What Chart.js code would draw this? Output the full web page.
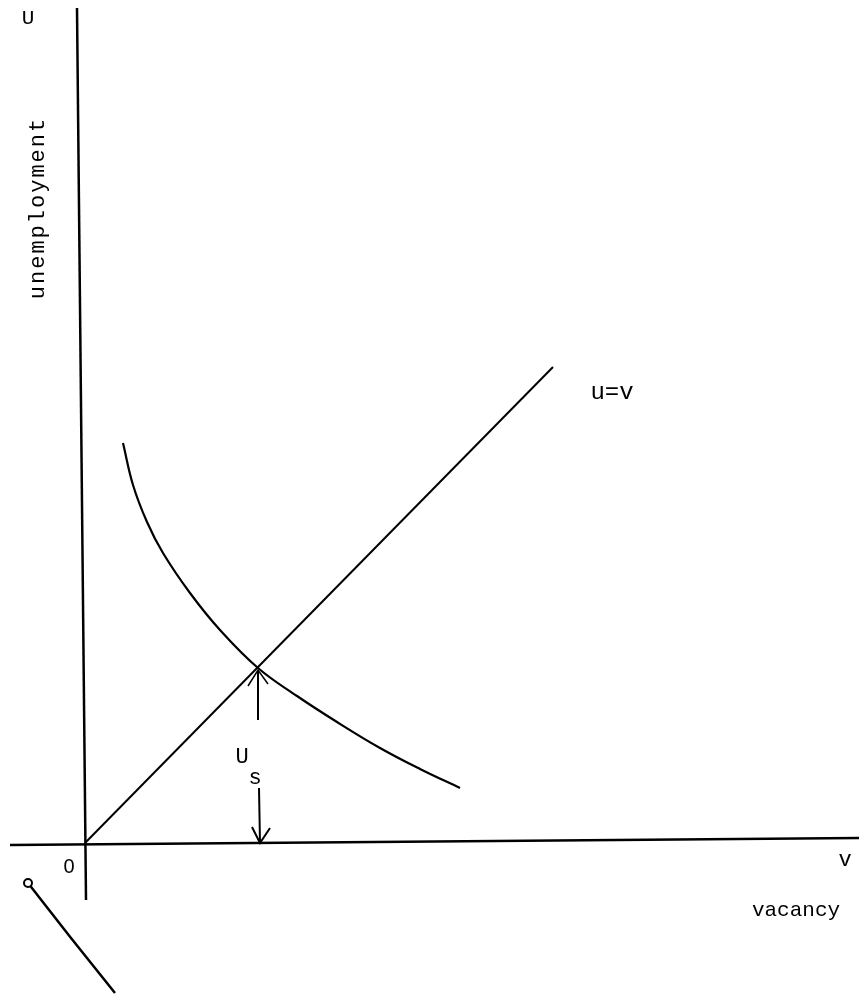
<!DOCTYPE html>
<html>
<head>
<meta charset="utf-8">
<script src="https://cdn.jsdelivr.net/npm/chart.js@4/dist/chart.umd.min.js"></script>
<style>
  html, body { margin: 0; padding: 0; background: #ffffff; }
  #wrap { width: 859px; height: 998px; }
</style>
</head>
<body>
<div id="wrap"><canvas id="c" width="859" height="998"></canvas></div>
<script>
// ---- Data (abstract units: vacancy v on x, unemployment u on y) ----
const curveV = [0.38, 0.48, 0.62, 0.78, 1.05, 1.35, 1.73, 2.12, 2.52, 2.95, 3.35, 3.75];
const curveU = [4.00, 3.58, 3.21, 2.90, 2.50, 2.13, 1.75, 1.47, 1.21, 0.95, 0.74, 0.55];
const diagV = [0, 4.68];
const diagU = [0, 4.76];
const yAxisV = [-0.08, 0.01];
const yAxisU = [8.35, -0.57];
const xAxisV = [-0.75, 7.74];
const xAxisU = [-0.02, 0.05];
const upArrowV = [1.73, 1.73];
const upArrowU = [1.23, 1.73];
const upHeadV = [1.63, 1.73, 1.83];
const upHeadU = [1.57, 1.73, 1.59];
const downArrowV = [1.74, 1.75];
const downArrowU = [0.55, 0.0];
const downHeadV = [1.67, 1.75, 1.85];
const downHeadU = [0.16, 0.0, 0.15];
const penV = [-0.57, -0.14, 0.30];
const penU = [-0.40, -0.95, -1.50];

const monoFont = '"Liberation Mono", "DejaVu Sans Mono", monospace';
const sansFont = '"Liberation Sans", "DejaVu Sans", sans-serif';
const labels = [
  { text: "U", v: -0.57, u: 8.25, size: 21, font: monoFont },
  { text: "0", v: -0.16, u: -0.24, size: 20, font: sansFont },
  { text: "v", v: 7.60, u: -0.17, size: 22, font: monoFont },
  { text: "vacancy", v: 7.11, u: -0.67, size: 21, font: monoFont },
  { text: "u=v", v: 5.27, u: 4.50, size: 24, font: monoFont },
  { text: "U", v: 1.57, u: 0.86, size: 22, font: monoFont },
  { text: "s", v: 1.70, u: 0.65, size: 22, font: monoFont }
];
const yTitle = { text: "unemployment", v: -0.47, u: 6.35 };

function pts(xs, ys) { return xs.map((x, i) => ({ x: x, y: ys[i] })); }
function ds(xs, ys, w, extra) {
  return Object.assign({
    data: pts(xs, ys), showLine: true, borderColor: '#000', borderWidth: w,
    pointRadius: 0, fill: false, tension: 0
  }, extra || {});
}

const textPlugin = {
  id: 'texts',
  afterDatasetsDraw(chart) {
    const ctx = chart.ctx, xs = chart.scales.x, ys = chart.scales.y;
    ctx.save();
    ctx.fillStyle = '#000';
    ctx.textAlign = 'center';
    ctx.textBaseline = 'middle';
    labels.forEach(l => {
      ctx.font = l.size + 'px ' + l.font;
      ctx.fillText(l.text, xs.getPixelForValue(l.v), ys.getPixelForValue(l.u));
    });
    ctx.translate(xs.getPixelForValue(yTitle.v), ys.getPixelForValue(yTitle.u));
    ctx.rotate(-Math.PI / 2);
    ctx.font = '22px ' + monoFont;
    try { ctx.letterSpacing = '2px'; } catch (e) {}
    ctx.fillText(yTitle.text, 0, 0);
    ctx.restore();
  }
};

new Chart(document.getElementById('c'), {
  type: 'scatter',
  data: {
    datasets: [
      ds(yAxisV, yAxisU, 2.5),
      ds(xAxisV, xAxisU, 2.5),
      ds(diagV, diagU, 2),
      ds(curveV, curveU, 2.2, { tension: 0.4 }),
      ds(upArrowV, upArrowU, 2),
      ds(upHeadV, upHeadU, 1.5),
      ds(downArrowV, downArrowU, 2),
      ds(downHeadV, downHeadU, 2),
      ds(penV, penU, 2.5, { tension: 0.2, pointRadius: [4, 0, 0], pointBorderColor: '#000', pointBackgroundColor: '#fff', pointBorderWidth: 2 })
    ]
  },
  options: {
    responsive: false,
    animation: false,
    layout: { padding: 0, autoPadding: false },
    plugins: { legend: { display: false }, tooltip: { enabled: false } },
    scales: {
      x: { type: 'linear', min: -0.85, max: 7.74, display: false },
      y: { type: 'linear', min: -1.55, max: 8.43, display: false }
    }
  },
  plugins: [textPlugin]
});
</script>
</body>
</html>
